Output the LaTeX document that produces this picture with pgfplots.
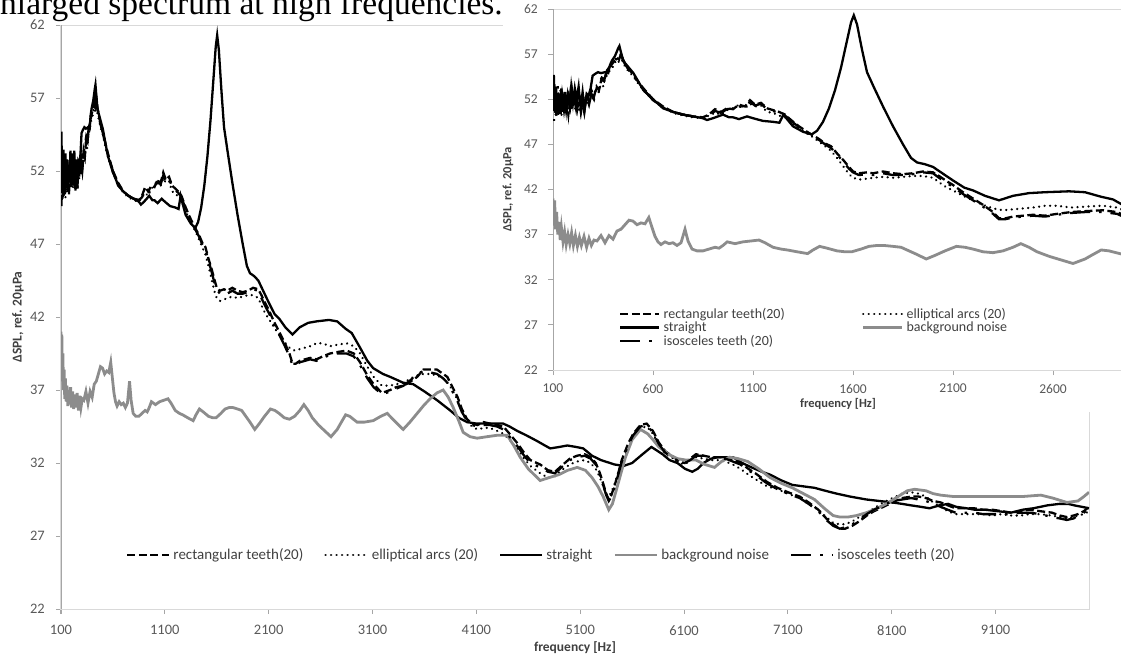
\documentclass[border=0pt]{standalone}
\usepackage{fontspec}
\setmainfont{Carlito}
\newfontfamily\capfont{Liberation Serif}
\usepackage{pgfplots}
\usepackage{pgfplotstable}
\pgfplotsset{compat=1.18}
\definecolor{ticklab}{HTML}{595959}
\definecolor{axline}{HTML}{D9D9D9}
\definecolor{yline}{HTML}{A6A6A6}
\definecolor{bgnoise}{HTML}{8C8C8C}
\definecolor{txt}{HTML}{404040}

\pgfplotstableread{
f v
100 51.5
106 53.8
112 50.5
118 52.6
125 50.2
132 52.0
139 50.4
146 52.4
154 51.0
162 52.8
170 50.8
178 52.2
186 51.2
195 53.0
204 51.4
213 52.6
222 51.0
231 52.2
240 50.6
250 52.0
260 51.2
270 52.4
280 51.8
292 53.0
305 52.3
318 53.4
330 53.0
342 54.2
355 54.0
368 55.0
380 55.3
392 55.8
405 56.2
418 56.6
430 56.4
440 57.0
452 56.3
465 55.8
480 55.3
500 54.8
530 53.8
560 53.0
600 52.0
650 51.2
700 50.6
750 50.3
800 50.1
850 50.0
880 50.3
910 50.9
940 50.6
970 51.0
1000 50.9
1030 51.4
1060 51.2
1085 51.9
1110 51.4
1140 51.6
1170 51.0
1200 50.8
1230 50.6
1260 50.3
1290 49.7
1330 49.0
1370 48.4
1400 48.0
1430 47.6
1460 47.1
1490 46.8
1520 46.0
1550 45.3
1580 44.5
1600 44.0
1630 43.8
1670 43.9
1700 43.8
1750 44.0
1800 43.8
1850 43.7
1900 43.8
1950 44.0
2000 43.9
2030 43.5
2070 42.9
2100 42.5
2150 41.7
2200 41.0
2250 40.3
2300 39.5
2330 38.8
2360 38.8
2400 39.0
2450 39.1
2500 39.2
2560 39.1
2620 39.3
2690 39.5
2760 39.6
2850 39.7
2920 39.5
2980 38.9
3050 38.0
3110 37.4
3190 36.8
3270 37.0
3330 37.2
3400 37.3
3470 37.6
3530 37.9
3590 38.4
3660 38.4
3720 38.4
3780 38.1
3820 37.9
3870 37.2
3920 36.5
3960 35.7
4010 35.0
4060 34.7
4110 34.6
4170 34.8
4230 34.7
4300 34.6
4360 34.5
4420 34.0
4490 33.4
4560 32.7
4620 32.2
4714 31.9
4790 31.5
4857 31.4
4920 31.8
5000 32.3
5070 32.5
5143 32.6
5200 32.4
5250 32.0
5290 31.3
5321 30.6
5350 29.9
5375 29.5
5400 29.8
5429 30.4
5470 31.4
5500 32.2
5560 33.3
5610 34.0
5680 34.6
5740 34.7
5800 34.2
5857 33.4
5920 32.8
6000 32.4
6060 32.1
6107 32.0
6160 32.3
6214 32.6
6290 32.5
6357 32.4
6430 32.4
6500 32.4
6570 32.2
6643 32.0
6720 31.6
6786 31.3
6900 30.7
7000 30.3
7100 30.0
7214 29.7
7300 29.3
7393 28.8
7470 28.2
7536 27.8
7600 27.5
7650 27.5
7720 27.7
7786 28.0
7860 28.4
7929 28.7
8020 29.0
8107 29.3
8200 29.6
8286 29.7
8360 29.7
8429 29.6
8500 29.4
8571 29.3
8640 29.1
8714 28.9
8800 28.9
8893 28.9
8980 28.8
9071 28.8
9160 28.7
9250 28.6
9340 28.7
9429 28.8
9530 28.7
9643 28.6
9720 28.4
9786 28.3
9850 28.4
9893 28.5
9950 28.7
10000 29.0
}\rect

\pgfplotstableread{
f v
100 50.8
107 52.4
114 50.0
121 52.0
128 50.6
135 51.6
143 50.2
151 51.8
159 50.5
167 52.3
175 51.0
184 52.5
193 51.3
202 52.8
211 50.9
220 52.0
230 50.8
240 51.8
250 51.0
262 52.2
275 51.5
288 52.6
300 52.0
312 53.0
325 52.6
338 53.6
350 53.4
362 54.4
375 54.8
388 55.4
400 55.6
413 56.2
426 56.0
438 56.8
450 56.0
465 55.5
480 55.0
500 54.6
530 53.6
560 52.8
600 51.9
650 51.1
700 50.5
750 50.2
800 50.0
850 49.9
880 50.2
910 50.5
940 50.3
970 50.8
1000 51.0
1030 51.4
1060 51.0
1085 51.5
1110 51.2
1140 51.3
1170 50.6
1200 50.5
1230 50.2
1260 50.0
1290 49.4
1330 48.8
1370 48.2
1400 47.8
1430 47.3
1460 46.8
1490 46.3
1520 45.5
1550 44.6
1580 43.7
1600 43.3
1630 43.1
1670 43.2
1700 43.3
1750 43.4
1800 43.3
1850 43.4
1900 43.5
1950 43.5
2000 43.3
2030 42.8
2070 42.2
2100 41.9
2150 41.3
2200 40.8
2250 40.3
2300 39.9
2350 39.7
2400 39.8
2450 39.9
2500 40.0
2560 40.2
2620 40.2
2690 40.0
2760 40.1
2850 40.2
2920 40.0
2980 39.5
3050 38.6
3110 37.9
3190 37.3
3270 37.3
3330 37.4
3400 37.5
3470 37.8
3530 38.0
3590 38.1
3660 38.1
3720 38.0
3780 37.8
3820 37.5
3870 37.0
3920 36.3
3960 35.6
4010 34.8
4060 34.5
4110 34.3
4170 34.4
4230 34.4
4300 34.2
4360 34.0
4420 33.6
4490 33.0
4560 32.3
4620 31.8
4714 31.3
4790 31.0
4857 31.1
4920 31.5
5000 31.9
5070 32.1
5143 32.2
5200 32.0
5250 31.6
5290 31.0
5321 30.4
5350 29.9
5375 29.7
5400 30.0
5429 30.5
5470 31.4
5500 32.0
5560 33.0
5610 33.7
5680 34.4
5740 34.5
5800 34.0
5857 33.2
5920 32.6
6000 32.3
6060 32.0
6107 31.9
6160 32.2
6214 32.4
6290 32.3
6357 32.2
6430 32.2
6500 32.1
6570 31.9
6643 31.6
6720 31.2
6786 30.9
6900 30.4
7000 30.2
7100 29.9
7214 29.6
7300 29.2
7393 28.8
7470 28.3
7536 27.9
7600 27.8
7650 27.8
7720 28.0
7786 28.3
7860 28.6
7929 28.9
8020 29.3
8107 29.6
8200 29.9
8286 30.0
8360 29.9
8429 29.7
8500 29.3
8571 29.0
8640 28.7
8714 28.5
8800 28.5
8893 28.5
8980 28.5
9071 28.4
9160 28.5
9250 28.4
9340 28.4
9429 28.5
9530 28.5
9643 28.4
9720 28.3
9786 28.2
9850 28.3
9893 28.4
9950 28.5
10000 28.7
}\ellip

\pgfplotstableread{
f v
100 52.5
104 54.7
109 51.2
115 53.4
121 50.4
128 52.6
135 50.8
142 53.2
150 51.0
158 52.8
166 50.6
174 52.4
182 51.3
191 53.4
200 51.6
209 53.2
218 52.0
228 53.4
238 51.0
248 52.8
258 50.8
268 52.6
278 52.4
288 53.2
298 54.6
310 54.8
325 55.0
340 54.9
360 55.0
376 54.9
385 55.8
395 56.3
410 56.8
425 57.6
432 57.9
440 57.2
452 56.2
468 55.8
502 54.9
552 53.0
600 52.0
650 51.0
700 50.6
750 50.3
800 50.1
850 49.9
870 49.7
900 49.9
950 50.3
980 50.0
1000 50.0
1030 49.8
1070 50.1
1100 49.9
1150 49.6
1200 49.5
1232 49.4
1252 50.3
1270 49.8
1300 49.0
1350 48.4
1393 48.1
1420 48.5
1450 49.5
1480 51.0
1510 53.0
1540 55.5
1570 58.5
1590 60.5
1604 61.3
1620 60.3
1645 57.5
1670 55.0
1705 53.3
1750 51.2
1800 49.0
1850 47.0
1890 45.5
1920 45.0
1960 44.8
2000 44.5
2040 43.9
2100 43.0
2157 42.2
2200 41.9
2260 41.3
2330 40.8
2400 41.3
2480 41.6
2560 41.7
2680 41.8
2760 41.7
2840 41.2
2900 40.9
2980 39.9
3050 39.0
3106 38.5
3200 38.1
3270 37.9
3395 37.5
3491 37.4
3600 36.9
3722 36.3
3848 35.6
3930 35.1
4011 34.8
4100 34.7
4200 34.7
4358 34.7
4420 34.5
4493 34.2
4580 33.9
4686 33.5
4760 33.2
4811 33.0
4900 33.1
4975 33.2
5060 33.1
5129 33.0
5214 32.5
5300 32.2
5430 31.9
5518 31.8
5600 32.0
5700 32.6
5786 33.1
5850 32.8
5893 32.6
5960 32.2
6036 32.0
6110 31.6
6179 31.4
6230 31.6
6286 32.0
6360 32.3
6429 32.4
6500 32.4
6571 32.4
6660 32.0
6750 31.7
6850 31.4
6929 31.2
7040 30.8
7143 30.5
7250 30.4
7357 30.3
7460 30.1
7571 29.9
7700 29.7
7857 29.5
7980 29.4
8107 29.3
8200 29.2
8286 29.1
8380 29.0
8464 28.9
8560 29.1
8643 29.2
8720 29.0
8821 28.9
8900 28.8
9000 28.8
9120 28.7
9250 28.6
9360 28.8
9464 28.9
9600 29.1
9714 29.2
9800 29.2
9857 29.1
9930 29.0
10000 28.9
}\straight

\pgfplotstableread{
f v
100 41.0
104 38.0
108 40.8
113 37.6
118 39.5
124 37.0
130 38.4
136 36.4
142 37.8
150 36.2
158 37.3
166 35.9
175 37.0
184 36.0
193 37.2
202 35.8
212 36.9
222 35.7
232 36.7
242 35.8
255 36.8
268 35.6
280 36.6
292 35.8
305 36.4
320 36.3
340 36.9
360 36.1
380 36.9
400 36.5
420 37.4
440 37.6
460 38.1
480 38.6
500 38.5
520 38.1
540 38.3
560 38.2
579 38.9
595 37.8
610 36.8
625 36.2
640 35.9
660 36.2
680 36.0
700 36.1
720 35.8
740 36.1
760 37.6
775 36.3
795 35.4
820 35.2
850 35.2
880 35.4
910 35.6
930 35.5
950 35.8
971 36.2
1010 36.0
1050 36.2
1091 36.3
1130 36.4
1160 36.1
1200 35.6
1240 35.4
1272 35.3
1320 35.1
1373 34.9
1400 35.3
1433 35.7
1470 35.5
1520 35.2
1560 35.1
1594 35.1
1640 35.4
1680 35.7
1720 35.8
1755 35.8
1800 35.7
1840 35.6
1880 35.2
1920 34.8
1966 34.3
2010 34.7
2060 35.2
2117 35.7
2160 35.6
2200 35.4
2250 35.1
2300 35.0
2350 35.2
2400 35.6
2439 36.0
2480 35.6
2520 35.1
2580 34.6
2640 34.2
2700 33.8
2760 34.3
2800 34.8
2841 35.3
2880 35.2
2951 34.8
3020 34.8
3106 34.9
3180 35.2
3241 35.4
3310 34.9
3395 34.3
3460 34.8
3530 35.4
3600 36.0
3655 36.4
3720 36.8
3780 37.0
3830 36.5
3877 35.8
3930 34.9
3973 34.1
4040 33.8
4108 33.7
4200 33.8
4300 33.9
4397 33.9
4460 33.2
4522 32.4
4600 31.6
4714 30.8
4800 31.0
4893 31.2
4980 31.5
5071 31.7
5150 31.5
5214 31.0
5270 30.4
5321 29.7
5375 28.8
5410 29.2
5450 30.2
5500 31.5
5536 32.4
5600 33.6
5680 34.3
5750 34.0
5800 33.6
5857 33.1
5950 32.6
6036 32.3
6120 32.2
6214 32.2
6300 31.9
6393 31.7
6460 32.1
6536 32.4
6620 32.3
6714 32.1
6820 31.6
6929 31.0
7040 30.6
7143 30.3
7250 29.9
7357 29.5
7450 28.9
7536 28.4
7600 28.3
7679 28.3
7760 28.4
7857 28.6
7960 28.9
8071 29.3
8160 29.7
8250 30.1
8321 30.2
8429 30.1
8500 29.9
8571 29.8
8700 29.7
8821 29.7
9000 29.7
9179 29.7
9350 29.7
9536 29.8
9650 29.6
9786 29.3
9893 29.4
9950 29.7
10000 30.0
}\bgnoise

\pgfplotstableread{
f v
100 53.0
105 49.6
111 52.8
117 50.2
124 53.6
131 51.2
138 53.0
145 50.6
153 52.6
161 50.9
169 52.0
177 50.4
186 52.4
195 50.8
205 52.2
215 51.0
225 53.0
235 51.2
245 52.0
256 50.6
268 52.3
280 51.4
292 52.6
305 52.0
318 53.2
331 53.8
344 54.4
357 54.2
370 55.2
383 55.6
396 56.0
409 56.5
422 56.4
434 57.2
446 56.6
460 55.9
480 55.2
500 54.7
530 53.7
560 52.9
600 51.9
650 51.1
700 50.6
750 50.3
800 50.1
850 50.0
880 50.2
910 50.7
940 50.5
970 50.9
1000 51.0
1030 51.2
1060 51.1
1085 51.7
1110 51.3
1140 51.5
1170 50.9
1200 50.7
1230 50.5
1260 50.2
1290 49.6
1330 48.9
1370 48.3
1400 47.9
1430 47.5
1460 47.0
1490 46.6
1520 45.9
1550 45.1
1580 44.3
1600 43.9
1630 43.6
1670 43.7
1700 43.6
1750 43.8
1800 43.6
1850 43.6
1900 43.7
1950 43.9
2000 43.8
2030 43.3
2070 42.7
2100 42.3
2150 41.5
2200 40.8
2250 40.1
2300 39.3
2330 38.7
2360 38.7
2400 38.9
2450 39.0
2500 39.1
2560 39.0
2620 39.2
2690 39.4
2760 39.5
2850 39.5
2920 39.3
2980 38.7
3050 37.8
3110 37.2
3190 36.7
3270 36.9
3330 37.1
3400 37.3
3470 37.7
3530 38.1
3590 38.3
3660 38.2
3720 38.1
3780 37.8
3820 37.5
3870 36.9
3920 36.2
3960 35.5
4010 34.9
4060 34.6
4110 34.5
4170 34.6
4230 34.6
4300 34.5
4360 34.3
4420 33.8
4490 33.2
4560 32.5
4620 32.0
4714 31.7
4790 31.4
4857 31.3
4920 31.7
5000 32.2
5070 32.4
5143 32.5
5200 32.3
5250 31.9
5290 31.2
5321 30.5
5350 29.8
5375 29.4
5400 29.7
5429 30.3
5470 31.3
5500 32.1
5560 33.2
5610 33.9
5680 34.5
5740 34.6
5800 34.1
5857 33.3
5920 32.7
6000 32.3
6060 32.1
6107 32.0
6160 32.2
6214 32.5
6290 32.5
6357 32.4
6430 32.3
6500 32.3
6570 32.1
6643 31.9
6720 31.5
6786 31.2
6900 30.6
7000 30.2
7100 29.9
7214 29.6
7300 29.2
7393 28.7
7470 28.1
7536 27.7
7600 27.5
7650 27.6
7720 27.8
7786 28.1
7860 28.5
7929 28.8
8020 29.1
8107 29.4
8200 29.5
8286 29.6
8360 29.5
8429 29.4
8500 29.2
8571 29.0
8640 28.8
8714 28.6
8800 28.6
8893 28.6
8980 28.5
9071 28.5
9160 28.5
9250 28.5
9340 28.6
9429 28.6
9530 28.5
9643 28.3
9720 28.2
9786 28.1
9850 28.2
9893 28.4
9950 28.6
10000 28.9
}\iso

\pgfplotsset{
  chartbase/.style={
    scale only axis,
    scaled ticks=false,
    axis line style={axline, line width=1pt},
    tick style={yline, line width=1pt},
    tick align=outside,
    tick pos=left,
    major tick length=5pt,
    /pgf/number format/assume math mode=true,
    /pgf/number format/set thousands separator={},
    /pgf/number format/fixed,
    tick label style={text=ticklab},
    yticklabel style={anchor=east, inner sep=0pt},
    xticklabel style={anchor=north, inner sep=0pt},
    ymin=22, ymax=62, ytick={22,27,...,62},
    legend cell align=left,
    legend image code/.code={\draw[##1] (0pt,0pt) -- (\legimgw,0pt);},
    rectS/.style={black, line width=2.3pt, dash pattern=on 8pt off 3.5pt},
    ellS/.style={black, line width=2.5pt, line cap=round, dash pattern=on 0.01pt off 5.5pt},
    strS/.style={black, line width=2.3pt},
    bgS/.style={bgnoise, line width=2.8pt},
    isoS/.style={black, line width=2.3pt, dash pattern=on 20pt off 9pt on 2.5pt off 9pt},
  },
}
\newcommand\legimgw{42pt}

\begin{document}
\begin{tikzpicture}
\useasboundingbox (0,0) rectangle (1121pt,-659pt);
\clip (0,0) rectangle (1121pt,-659pt);

\node[anchor=base west, inner sep=0pt, font=\capfont\fontsize{33.5}{36}\selectfont] at (0pt,-14pt) {nlarged spectrum at high frequencies.};

% main axis
\begin{axis}[chartbase,
  at={(61pt,-609pt)}, anchor=south west,
  width=1028pt, height=584pt,
  xmin=100, xmax=10000,
  xtick={100,1100,...,9100},
  tick label style={font=\fontsize{14.5}{16}\selectfont},
  yticklabel style={xshift=-11pt},
  xticklabel style={yshift=-11pt},
  xlabel={frequency [Hz]},
  ylabel={ΔSPL, ref. 20µPa},
  xlabel style={at={(axis description cs:0.5,-0.0665)}, anchor=center, font=\bfseries\fontsize{13.5}{15}\selectfont, text=txt},
  ylabel style={at={(axis description cs:-0.0418,0.5)}, anchor=center, font=\bfseries\fontsize{13.5}{15}\selectfont, text=txt},
  legend columns=5,
  legend style={at={(0.0632,0.0925)}, anchor=west, draw=none, fill=none, inner sep=0pt,
    font=\fontsize{15}{17}\selectfont, text=txt,
    nodes={inner xsep=0pt, inner ysep=1pt},
    /tikz/every odd column/.append style={column sep=3pt},
    /tikz/every even column/.append style={column sep=21pt}},
]
\draw[yline, line width=1pt] (rel axis cs:0,0) -- (rel axis cs:0,1);
\addplot[rectS] table[x=f,y=v] {\rect};
\addlegendentry{rectangular teeth(20)}
\addplot[ellS] table[x=f,y=v] {\ellip};
\addlegendentry{elliptical arcs (20)}
\addplot[strS] table[x=f,y=v] {\straight};
\addlegendentry{straight}
\addplot[bgS] table[x=f,y=v] {\bgnoise};
\addlegendentry{background noise}
\addplot[isoS] table[x=f,y=v] {\iso};
\addlegendentry{isosceles teeth (20)}
\end{axis}

\fill[white] (503pt,1pt) rectangle (1122pt,-412pt);

% inset axis
\renewcommand\legimgw{39pt}
\begin{axis}[chartbase,
  at={(553pt,-370pt)}, anchor=south west,
  width=570pt, height=361pt,
  xmin=100, xmax=2950,
  xtick={100,600,...,2600},
  tick label style={font=\fontsize{13.5}{15}\selectfont},
  yticklabel style={xshift=-10pt},
  xticklabel style={yshift=-9pt},
  xlabel={frequency [Hz]},
  ylabel={ΔSPL, ref. 20µPa},
  xlabel style={at={(axis description cs:0.5,-0.093)}, anchor=center, font=\bfseries\fontsize{12.5}{14}\selectfont, text=txt},
  ylabel style={at={(axis description cs:-0.079,0.5)}, anchor=center, font=\bfseries\fontsize{12.5}{14}\selectfont, text=txt},
  legend columns=2,
  legend style={at={(0.116,0.1745)}, anchor=north west, draw=none, fill=none, inner sep=0pt,
    font=\fontsize{14}{16}\selectfont, text=txt,
    nodes={inner xsep=0pt, inner ysep=1pt},
    /tikz/every odd column/.append style={column sep=3pt},
    /tikz/every even column/.append style={column sep=77pt}},
]
\draw[yline, line width=1pt] (rel axis cs:0,0) -- (rel axis cs:0,1);
\addplot[rectS] table[x=f,y=v] {\rect};
\addlegendentry{rectangular teeth(20)}
\addplot[ellS] table[x=f,y=v] {\ellip};
\addlegendentry{elliptical arcs (20)}
\addplot[strS] table[x=f,y=v] {\straight};
\addlegendentry{straight}
\addplot[bgS] table[x=f,y=v] {\bgnoise};
\addlegendentry{background noise}
\addplot[isoS] table[x=f,y=v] {\iso};
\addlegendentry{isosceles teeth (20)}
\end{axis}
\end{tikzpicture}
\end{document}
